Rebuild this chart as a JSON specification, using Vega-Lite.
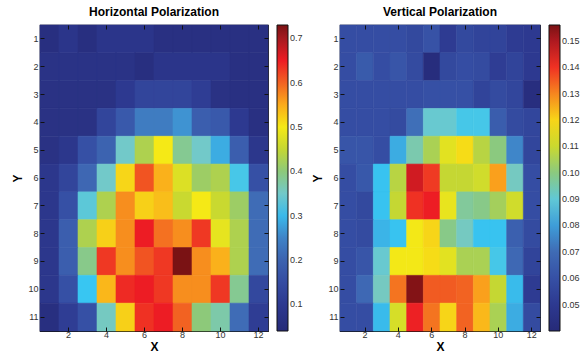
{
"$schema": "https://vega.github.io/schema/vega-lite/v6.json",
"padding": {"left": 11, "top": 4, "right": 0, "bottom": 0},
"datasets": {
"H": [
{"x":1,"y":1,"v":0.06},{"x":2,"y":1,"v":0.085},{"x":3,"y":1,"v":0.06},{"x":4,"y":1,"v":0.085},{"x":5,"y":1,"v":0.085},{"x":6,"y":1,"v":0.085},{"x":7,"y":1,"v":0.065},{"x":8,"y":1,"v":0.065},{"x":9,"y":1,"v":0.065},{"x":10,"y":1,"v":0.065},{"x":11,"y":1,"v":0.065},{"x":12,"y":1,"v":0.065},
{"x":1,"y":2,"v":0.075},{"x":2,"y":2,"v":0.075},{"x":3,"y":2,"v":0.075},{"x":4,"y":2,"v":0.075},{"x":5,"y":2,"v":0.075},{"x":6,"y":2,"v":0.06},{"x":7,"y":2,"v":0.085},{"x":8,"y":2,"v":0.085},{"x":9,"y":2,"v":0.085},{"x":10,"y":2,"v":0.085},{"x":11,"y":2,"v":0.065},{"x":12,"y":2,"v":0.065},
{"x":1,"y":3,"v":0.07},{"x":2,"y":3,"v":0.07},{"x":3,"y":3,"v":0.07},{"x":4,"y":3,"v":0.07},{"x":5,"y":3,"v":0.10},{"x":6,"y":3,"v":0.13},{"x":7,"y":3,"v":0.13},{"x":8,"y":3,"v":0.13},{"x":9,"y":3,"v":0.11},{"x":10,"y":3,"v":0.07},{"x":11,"y":3,"v":0.065},{"x":12,"y":3,"v":0.065},
{"x":1,"y":4,"v":0.07},{"x":2,"y":4,"v":0.07},{"x":3,"y":4,"v":0.07},{"x":4,"y":4,"v":0.13},{"x":5,"y":4,"v":0.18},{"x":6,"y":4,"v":0.24},{"x":7,"y":4,"v":0.24},{"x":8,"y":4,"v":0.27},{"x":9,"y":4,"v":0.19},{"x":10,"y":4,"v":0.18},{"x":11,"y":4,"v":0.10},{"x":12,"y":4,"v":0.065},
{"x":1,"y":5,"v":0.07},{"x":2,"y":5,"v":0.09},{"x":3,"y":5,"v":0.16},{"x":4,"y":5,"v":0.20},{"x":5,"y":5,"v":0.35},{"x":6,"y":5,"v":0.43},{"x":7,"y":5,"v":0.50},{"x":8,"y":5,"v":0.385},{"x":9,"y":5,"v":0.35},{"x":10,"y":5,"v":0.29},{"x":11,"y":5,"v":0.19},{"x":12,"y":5,"v":0.09},
{"x":1,"y":6,"v":0.09},{"x":2,"y":6,"v":0.13},{"x":3,"y":6,"v":0.21},{"x":4,"y":6,"v":0.35},{"x":5,"y":6,"v":0.515},{"x":6,"y":6,"v":0.61},{"x":7,"y":6,"v":0.545},{"x":8,"y":6,"v":0.475},{"x":9,"y":6,"v":0.415},{"x":10,"y":6,"v":0.43},{"x":11,"y":6,"v":0.32},{"x":12,"y":6,"v":0.16},
{"x":1,"y":7,"v":0.09},{"x":2,"y":7,"v":0.16},{"x":3,"y":7,"v":0.335},{"x":4,"y":7,"v":0.43},{"x":5,"y":7,"v":0.57},{"x":6,"y":7,"v":0.52},{"x":7,"y":7,"v":0.535},{"x":8,"y":7,"v":0.455},{"x":9,"y":7,"v":0.50},{"x":10,"y":7,"v":0.455},{"x":11,"y":7,"v":0.415},{"x":12,"y":7,"v":0.22},
{"x":1,"y":8,"v":0.09},{"x":2,"y":8,"v":0.19},{"x":3,"y":8,"v":0.43},{"x":4,"y":8,"v":0.52},{"x":5,"y":8,"v":0.57},{"x":6,"y":8,"v":0.65},{"x":7,"y":8,"v":0.59},{"x":8,"y":8,"v":0.57},{"x":9,"y":8,"v":0.63},{"x":10,"y":8,"v":0.485},{"x":11,"y":8,"v":0.43},{"x":12,"y":8,"v":0.22},
{"x":1,"y":9,"v":0.09},{"x":2,"y":9,"v":0.19},{"x":3,"y":9,"v":0.39},{"x":4,"y":9,"v":0.63},{"x":5,"y":9,"v":0.57},{"x":6,"y":9,"v":0.61},{"x":7,"y":9,"v":0.63},{"x":8,"y":9,"v":0.73},{"x":9,"y":9,"v":0.57},{"x":10,"y":9,"v":0.545},{"x":11,"y":9,"v":0.43},{"x":12,"y":9,"v":0.22},
{"x":1,"y":10,"v":0.09},{"x":2,"y":10,"v":0.16},{"x":3,"y":10,"v":0.31},{"x":4,"y":10,"v":0.54},{"x":5,"y":10,"v":0.64},{"x":6,"y":10,"v":0.65},{"x":7,"y":10,"v":0.63},{"x":8,"y":10,"v":0.57},{"x":9,"y":10,"v":0.57},{"x":10,"y":10,"v":0.63},{"x":11,"y":10,"v":0.385},{"x":12,"y":10,"v":0.14},
{"x":1,"y":11,"v":0.06},{"x":2,"y":11,"v":0.11},{"x":3,"y":11,"v":0.16},{"x":4,"y":11,"v":0.355},{"x":5,"y":11,"v":0.52},{"x":6,"y":11,"v":0.635},{"x":7,"y":11,"v":0.65},{"x":8,"y":11,"v":0.60},{"x":9,"y":11,"v":0.40},{"x":10,"y":11,"v":0.37},{"x":11,"y":11,"v":0.22},{"x":12,"y":11,"v":0.11}
],
"V": [
{"x":1,"y":1,"v":0.059},{"x":2,"y":1,"v":0.059},{"x":3,"y":1,"v":0.059},{"x":4,"y":1,"v":0.059},{"x":5,"y":1,"v":0.057},{"x":6,"y":1,"v":0.061},{"x":7,"y":1,"v":0.051},{"x":8,"y":1,"v":0.057},{"x":9,"y":1,"v":0.055},{"x":10,"y":1,"v":0.055},{"x":11,"y":1,"v":0.051},{"x":12,"y":1,"v":0.050},
{"x":1,"y":2,"v":0.059},{"x":2,"y":2,"v":0.064},{"x":3,"y":2,"v":0.059},{"x":4,"y":2,"v":0.062},{"x":5,"y":2,"v":0.058},{"x":6,"y":2,"v":0.042},{"x":7,"y":2,"v":0.057},{"x":8,"y":2,"v":0.059},{"x":9,"y":2,"v":0.058},{"x":10,"y":2,"v":0.052},{"x":11,"y":2,"v":0.055},{"x":12,"y":2,"v":0.050},
{"x":1,"y":3,"v":0.059},{"x":2,"y":3,"v":0.059},{"x":3,"y":3,"v":0.059},{"x":4,"y":3,"v":0.059},{"x":5,"y":3,"v":0.059},{"x":6,"y":3,"v":0.060},{"x":7,"y":3,"v":0.060},{"x":8,"y":3,"v":0.060},{"x":9,"y":3,"v":0.055},{"x":10,"y":3,"v":0.058},{"x":11,"y":3,"v":0.056},{"x":12,"y":3,"v":0.043},
{"x":1,"y":4,"v":0.059},{"x":2,"y":4,"v":0.059},{"x":3,"y":4,"v":0.059},{"x":4,"y":4,"v":0.058},{"x":5,"y":4,"v":0.071},{"x":6,"y":4,"v":0.091},{"x":7,"y":4,"v":0.091},{"x":8,"y":4,"v":0.087},{"x":9,"y":4,"v":0.087},{"x":10,"y":4,"v":0.065},{"x":11,"y":4,"v":0.058},{"x":12,"y":4,"v":0.056},
{"x":1,"y":5,"v":0.062},{"x":2,"y":5,"v":0.062},{"x":3,"y":5,"v":0.059},{"x":4,"y":5,"v":0.082},{"x":5,"y":5,"v":0.095},{"x":6,"y":5,"v":0.105},{"x":7,"y":5,"v":0.114},{"x":8,"y":5,"v":0.119},{"x":9,"y":5,"v":0.107},{"x":10,"y":5,"v":0.100},{"x":11,"y":5,"v":0.076},{"x":12,"y":5,"v":0.056},
{"x":1,"y":6,"v":0.059},{"x":2,"y":6,"v":0.063},{"x":3,"y":6,"v":0.085},{"x":4,"y":6,"v":0.107},{"x":5,"y":6,"v":0.146},{"x":6,"y":6,"v":0.139},{"x":7,"y":6,"v":0.109},{"x":8,"y":6,"v":0.109},{"x":9,"y":6,"v":0.111},{"x":10,"y":6,"v":0.127},{"x":11,"y":6,"v":0.093},{"x":12,"y":6,"v":0.059},
{"x":1,"y":7,"v":0.059},{"x":2,"y":7,"v":0.057},{"x":3,"y":7,"v":0.085},{"x":4,"y":7,"v":0.109},{"x":5,"y":7,"v":0.140},{"x":6,"y":7,"v":0.1425},{"x":7,"y":7,"v":0.115},{"x":8,"y":7,"v":0.097},{"x":9,"y":7,"v":0.099},{"x":10,"y":7,"v":0.104},{"x":11,"y":7,"v":0.111},{"x":12,"y":7,"v":0.059},
{"x":1,"y":8,"v":0.059},{"x":2,"y":8,"v":0.058},{"x":3,"y":8,"v":0.083},{"x":4,"y":8,"v":0.085},{"x":5,"y":8,"v":0.117},{"x":6,"y":8,"v":0.120},{"x":7,"y":8,"v":0.099},{"x":8,"y":8,"v":0.093},{"x":9,"y":8,"v":0.085},{"x":10,"y":8,"v":0.085},{"x":11,"y":8,"v":0.066},{"x":12,"y":8,"v":0.058},
{"x":1,"y":9,"v":0.059},{"x":2,"y":9,"v":0.062},{"x":3,"y":9,"v":0.091},{"x":4,"y":9,"v":0.117},{"x":5,"y":9,"v":0.117},{"x":6,"y":9,"v":0.119},{"x":7,"y":9,"v":0.114},{"x":8,"y":9,"v":0.105},{"x":9,"y":9,"v":0.105},{"x":10,"y":9,"v":0.087},{"x":11,"y":9,"v":0.069},{"x":12,"y":9,"v":0.055},
{"x":1,"y":10,"v":0.059},{"x":2,"y":10,"v":0.069},{"x":3,"y":10,"v":0.093},{"x":4,"y":10,"v":0.132},{"x":5,"y":10,"v":0.155},{"x":6,"y":10,"v":0.135},{"x":7,"y":10,"v":0.135},{"x":8,"y":10,"v":0.134},{"x":9,"y":10,"v":0.127},{"x":10,"y":10,"v":0.109},{"x":11,"y":10,"v":0.084},{"x":12,"y":10,"v":0.051},
{"x":1,"y":11,"v":0.059},{"x":2,"y":11,"v":0.059},{"x":3,"y":11,"v":0.084},{"x":4,"y":11,"v":0.112},{"x":5,"y":11,"v":0.142},{"x":6,"y":11,"v":0.132},{"x":7,"y":11,"v":0.120},{"x":8,"y":11,"v":0.134},{"x":9,"y":11,"v":0.124},{"x":10,"y":11,"v":0.105},{"x":11,"y":11,"v":0.082},{"x":12,"y":11,"v":0.058}
]
},
"config": {
  "font": "Liberation Sans",
  "view": {"stroke": "#111", "strokeWidth": 1.2},
  "axis": {"labelFontSize": 9, "labelColor": "#333", "tickColor": "#111", "domain": false, "grid": false, "titleFontSize": 12, "titleFontWeight": "bold", "titleColor": "#000", "labelAngle": 0, "tickSize": -4},
  "axisX": {"labelPadding": 3},
  "axisY": {"labelPadding": 6},
  "title": {"fontSize": 12, "fontWeight": "bold", "offset": 6, "color": "#000"},
  "legend": {"padding": 0, "offset": 8, "labelFontSize": 9, "labelColor": "#333", "labelOffset": 3, "gradientLength": 306, "gradientThickness": 11, "gradientStrokeColor": "#111", "gradientStrokeWidth": 1, "labelOverlap": false, "format": "~g"}
},
"bounds": "flush",
"spacing": 72,
"resolve": {"scale": {"color": "independent"}},
"hconcat": [
{
  "title": "Horizontal Polarization",
  "width": 228, "height": 306,
  "data": {"name": "H"},
  "resolve": {"axis": {"x": "independent", "y": "independent"}},
  "layer": [
    {
      "mark": {"type": "rect", "strokeWidth": 0.6, "stroke": {"expr": "scale('concat_0_color', datum.v)"}},
      "encoding": {
        "x": {"field": "x", "type": "ordinal", "scale": {"paddingInner": 0, "paddingOuter": 0}, "axis": {"title": "X", "values": [2,4,6,8,10,12], "titlePadding": 2}},
        "y": {"field": "y", "type": "ordinal", "scale": {"paddingInner": 0, "paddingOuter": 0}, "axis": {"title": "Y", "titlePadding": 3}},
        "color": {"field": "v", "type": "quantitative",
          "scale": {"domain": [0.04,0.10,0.16,0.22,0.27,0.31,0.35,0.40,0.45,0.50,0.55,0.60,0.65,0.70,0.73],
                    "range": ["#262a78","#2d3990","#3650a5","#3f6cb6","#3f93d2","#38c6f2","#72c9c9","#8dc97a","#c4d733","#f5e916","#fbab1b","#f26222","#ed1c24","#a5191f","#7a1214"], "interpolate": "rgb"},
          "legend": {"title": null, "values": [0.1,0.2,0.3,0.4,0.5,0.6,0.7]}}
      }
    },
    {
      "mark": {"type": "rect", "opacity": 0},
      "encoding": {
        "x": {"field": "x", "type": "ordinal", "axis": {"orient": "top", "title": null, "labels": false, "values": [2,4,6,8,10,12]}},
        "y": {"field": "y", "type": "ordinal", "axis": {"orient": "right", "title": null, "labels": false}}
      }
    }
  ]
},
{
  "title": "Vertical Polarization",
  "width": 200, "height": 306,
  "data": {"name": "V"},
  "resolve": {"axis": {"x": "independent", "y": "independent"}},
  "layer": [
    {
      "mark": {"type": "rect", "strokeWidth": 0.6, "stroke": {"expr": "scale('concat_1_color', datum.v)"}},
      "encoding": {
        "x": {"field": "x", "type": "ordinal", "scale": {"paddingInner": 0, "paddingOuter": 0}, "axis": {"title": "X", "values": [2,4,6,8,10,12], "titlePadding": 2}},
        "y": {"field": "y", "type": "ordinal", "scale": {"paddingInner": 0, "paddingOuter": 0}, "axis": {"title": "Y", "titlePadding": 3}},
        "color": {"field": "v", "type": "quantitative",
          "scale": {"domain": [0.040,0.0501,0.0602,0.0703,0.0787,0.0854,0.0921,0.1005,0.1089,0.1173,0.1257,0.1341,0.1426,0.1510,0.1560],
                    "range": ["#262a78","#2d3990","#3650a5","#3f6cb6","#3f93d2","#38c6f2","#72c9c9","#8dc97a","#c4d733","#f5e916","#fbab1b","#f26222","#ed1c24","#a5191f","#7a1214"], "interpolate": "rgb"},
          "legend": {"title": null, "values": [0.05,0.06,0.07,0.08,0.09,0.1,0.11,0.12,0.13,0.14,0.15]}}
      }
    },
    {
      "mark": {"type": "rect", "opacity": 0},
      "encoding": {
        "x": {"field": "x", "type": "ordinal", "axis": {"orient": "top", "title": null, "labels": false, "values": [2,4,6,8,10,12]}},
        "y": {"field": "y", "type": "ordinal", "axis": {"orient": "right", "title": null, "labels": false}}
      }
    }
  ]
}
]
}
